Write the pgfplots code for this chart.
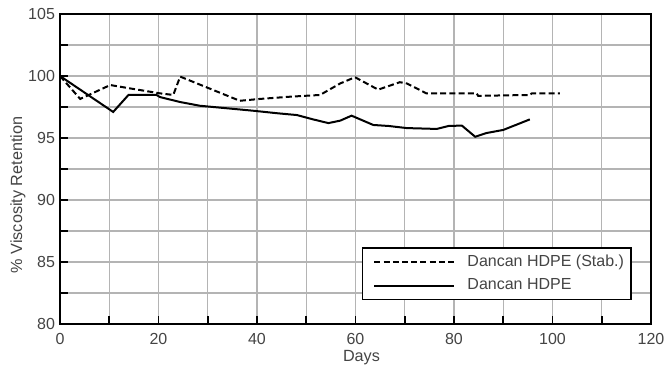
\documentclass[border=0pt]{standalone}
\usepackage{fontspec}
\setmainfont{Liberation Sans}
\usepackage{pgfplots}
\pgfplotsset{compat=1.18}
\definecolor{txt}{HTML}{444444}
\definecolor{gridc}{HTML}{B4B4B4}
\begin{document}
\begin{tikzpicture}
\begin{axis}[
  scale only axis, width=295.5pt, height=155pt,
  xmin=0, xmax=120, ymin=80, ymax=105,
  xtick={0,20,...,120}, minor xtick={10,30,...,110},
  ytick={80,85,...,105}, minor ytick={82.5,87.5,...,102.5},
  grid=both,
  major grid style={gridc, line width=0.7pt},
  minor grid style={gridc, line width=0.7pt},
  tick pos=left, tick align=inside,
  major tick length=4pt, minor tick length=4pt,
  every tick/.style={black, line width=0.8pt},
  axis line style={line width=0.9pt},
  font=\fontsize{8}{9.6}\selectfont,
  tick label style={txt, font=\fontsize{8}{9.6}\selectfont},
  /pgf/number format/assume math mode=true,
  xticklabel style={yshift=-1pt},
  yticklabel style={xshift=1pt},
  xlabel={Days}, ylabel={\% Viscosity Retention},
  label style={txt, font=\fontsize{8.1}{9.7}\selectfont},
  xlabel style={yshift=4pt, xshift=3pt},
  ylabel style={yshift=-5.5pt, xshift=-13pt},
  legend style={at={(axis cs:116.1,81.9)}, anchor=south east,
    draw=black, line width=0.8pt, fill=white,
    font=\fontsize{8}{9.6}\selectfont, text=txt,
    inner xsep=2pt, inner ysep=2pt, row sep=1.5pt,
    nodes={inner sep=1.5pt, anchor=west},
    /tikz/every odd column/.append style={column sep=4.5pt}},
  legend cell align=left,
  legend image code/.code={\path (0pt,0pt); \draw[#1] (3.5pt,0pt) -- (43.5pt,0pt);},
]
\addplot[black, line width=1pt, dash pattern=on 3pt off 1.6pt] coordinates {
(0,100) (4.1,98.15) (10.2,99.27) (14.2,99.0) (20.3,98.6) (23,98.47)
(24.4,99.95) (36.5,98.0) (40.6,98.15) (46.7,98.33) (52.8,98.47) (56.9,99.4)
(59.9,99.9) (64.6,98.9) (69,99.5) (70.4,99.4) (74.4,98.6) (84.6,98.6)
(84.9,98.4) (95.4,98.47) (95.8,98.6) (101.5,98.6)
};
\addlegendentry{Dancan HDPE (Stab.)}
\addplot[black, line width=1pt] coordinates {
(0,100) (10.8,97.1) (13.9,98.47) (19.6,98.47) (20.3,98.3) (24.4,97.9)
(28.4,97.6) (33.8,97.4) (39.2,97.2) (44,97.0) (48.1,96.85) (51.4,96.5)
(54.5,96.2) (56.9,96.4) (59.2,96.8) (63.6,96.05) (66.7,95.97) (70.4,95.8)
(76.5,95.73) (78.9,95.97) (81.6,96.0) (84.3,95.1) (86.6,95.4) (90,95.65)
(95.4,96.5)
};
\addlegendentry{Dancan HDPE}
\coordinate (A) at (rel axis cs:0,0);
\coordinate (B) at (rel axis cs:1,1);
\end{axis}
\pgfresetboundingbox
\path ([xshift=-30pt,yshift=-22pt]A) rectangle ([xshift=7.5pt,yshift=7pt]B);
\end{tikzpicture}
\end{document}
